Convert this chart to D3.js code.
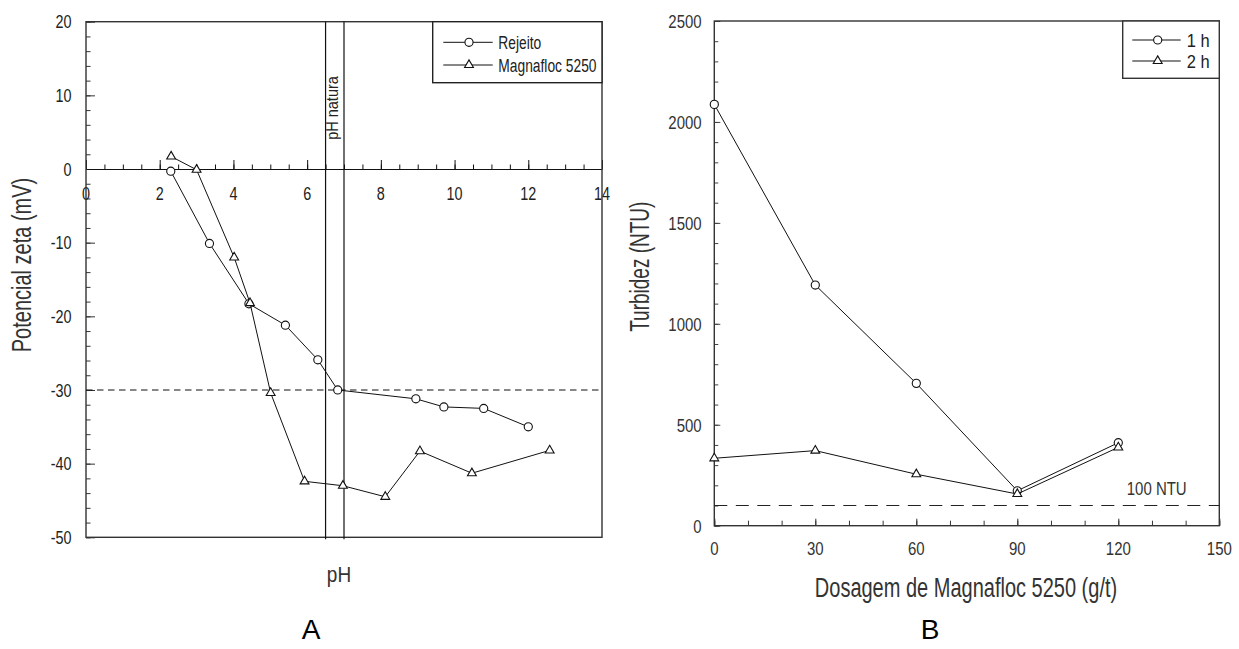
<!DOCTYPE html>
<html>
<head>
<meta charset="utf-8">
<script src="https://cdn.jsdelivr.net/npm/d3@7"></script>
<style>
  html, body { margin: 0; padding: 0; background: #fff; }
  svg { display: block; }
</style>
</head>
<body>
<div id="chart"></div>
<script>
// --- panel A: zeta potential vs pH
const phTicks = [0, 2, 4, 6, 8, 10, 12, 14];
const zetaTicks = [-50, -40, -30, -20, -10, 0, 10, 20];
const phRejeito = [2.3, 3.35, 4.42, 5.41, 6.29, 6.83, 8.95, 9.71, 10.79, 12.0];
const zetaRejeito = [-0.3, -10.1, -18.3, -21.2, -25.9, -30.0, -31.2, -32.3, -32.5, -35.0];
const phMagnafloc = [2.31, 3.0, 4.02, 4.45, 5.01, 5.93, 6.97, 8.12, 9.06, 10.47, 12.58];
const zetaMagnafloc = [1.7, -0.1, -12.0, -18.2, -30.4, -42.4, -43.0, -44.5, -38.3, -41.3, -38.2];
const zetaRef = -30;
const phNatural = [6.5, 7.0];
const seriesA = ["Rejeito", "Magnafloc 5250"];

// --- panel B: turbidity vs dosage
const dosTicks = [0, 30, 60, 90, 120, 150];
const turbTicks = [0, 500, 1000, 1500, 2000, 2500];
const dosagem = [0, 30, 60, 90, 120];
const turb1h = [2087, 1192, 705, 173, 411];
const turb2h = [334, 372, 255, 157, 388];
const turbRef = 100;
const seriesB = ["1 h", "2 h"];

const W = 1239, H = 649;
const svg = d3.select("#chart").append("svg")
    .attr("width", W)
    .attr("height", H)
    .style("background-color", "#fff");

const FONT = "'Liberation Sans', Arial, sans-serif";

// text is tall and narrow in the original, so stretch along glyph height
function txt(parent, s, x, y, o) {
    o = Object.assign({size: 14, k: 1.3, rot: 0, anchor: "middle", fill: "#222"}, o);
    return parent.append("text")
        .attr("transform", `translate(${x},${y}) rotate(${o.rot}) scale(1,${o.k})`)
        .attr("text-anchor", o.anchor)
        .style("font-family", FONT)
        .style("font-size", o.size + "px")
        .attr("fill", o.fill)
        .text(s);
}

const circleSym = d3.symbol().type(d3.symbolCircle).size(52);
const triSym = d3.symbol().type(d3.symbolTriangle).size(34);

function drawSeries(g, xs, ys, xScale, yScale, sym) {
    const pts = xs.map((x, i) => [xScale(x), yScale(ys[i])]);
    g.append("path")
        .attr("d", d3.line()(pts))
        .attr("fill", "none")
        .attr("stroke", "#111")
        .attr("stroke-width", 1);
    g.selectAll(null).data(pts).enter().append("path")
        .attr("transform", d => `translate(${d[0]},${d[1]})`)
        .attr("d", sym)
        .attr("fill", "#fff")
        .attr("stroke", "#111")
        .attr("stroke-width", 1.1);
}

// ================= Panel A =================
const xA = d3.scaleLinear().domain([0, 14]).range([86, 602]);
const yA = d3.scaleLinear().domain([-50, 20]).range([537.3, 21.7]);
const gA = svg.append("g");

// y ticks (inward)
gA.append("g").attr("transform", `translate(${xA(0)},0)`)
    .call(d3.axisLeft(yA).tickValues(d3.range(-50, 20.1, 2)).tickSizeInner(-4.5).tickSizeOuter(0).tickFormat(""))
    .call(g => g.select(".domain").remove())
    .attr("color", "#333");
gA.append("g").attr("transform", `translate(${xA(0)},0)`)
    .call(d3.axisLeft(yA).tickValues(zetaTicks).tickSizeInner(-9).tickSizeOuter(0).tickFormat(""))
    .call(g => g.select(".domain").remove())
    .attr("color", "#333");

// zero line with upward ticks
gA.append("g").attr("transform", `translate(0,${yA(0)})`)
    .call(d3.axisBottom(xA).tickValues(d3.range(0, 14.01, 0.5)).tickSizeInner(-4.5).tickSizeOuter(0).tickFormat(""))
    .attr("color", "#111");
gA.append("g").attr("transform", `translate(0,${yA(0)})`)
    .call(d3.axisBottom(xA).tickValues(phTicks).tickSizeInner(-9).tickSizeOuter(0).tickFormat(""))
    .call(g => g.select(".domain").remove())
    .attr("color", "#111");

zetaTicks.forEach(v => txt(gA, v, 71.5, yA(v) + 6.6, {size: 14.4, k: 1.3, anchor: "end"}));
phTicks.forEach(v => txt(gA, v, xA(v), yA(0) + 30.7, {size: 14.4, k: 1.3}));

// frame
gA.append("rect")
    .attr("x", xA(0)).attr("y", yA(20))
    .attr("width", xA(14) - xA(0)).attr("height", yA(-50) - yA(20))
    .attr("fill", "none").attr("stroke", "#333").attr("stroke-width", 1.4);

// -30 mV reference
gA.append("line")
    .attr("x1", xA(0)).attr("x2", xA(14))
    .attr("y1", yA(zetaRef)).attr("y2", yA(zetaRef))
    .attr("stroke", "#111").attr("stroke-width", 1.1)
    .attr("stroke-dasharray", "6.5,4.5");

// pH natural band
phNatural.forEach(p => {
    gA.append("line")
        .attr("x1", xA(p)).attr("x2", xA(p))
        .attr("y1", yA(20)).attr("y2", yA(-50) + 2)
        .attr("stroke", "#111").attr("stroke-width", 1.2);
});
txt(gA, "pH natura", xA(phNatural[0]) + 12, 108, {size: 14.5, k: 1.1, rot: -90});

drawSeries(gA, phRejeito, zetaRejeito, xA, yA, circleSym);
drawSeries(gA, phMagnafloc, zetaMagnafloc, xA, yA, triSym);

// legend A
const legA = gA.append("g");
legA.append("rect")
    .attr("x", 432.7).attr("y", yA(20))
    .attr("width", xA(14) - 432.7).attr("height", 61)
    .attr("fill", "#fff").attr("stroke", "#222").attr("stroke-width", 1.4);
[circleSym, triSym].forEach((sym, i) => {
    const ly = 42.3 + i * 22.7;
    legA.append("line").attr("x1", 443.3).attr("x2", 492.7).attr("y1", ly).attr("y2", ly)
        .attr("stroke", "#111").attr("stroke-width", 1);
    legA.append("path").attr("transform", `translate(469,${ly})`).attr("d", sym)
        .attr("fill", "#fff").attr("stroke", "#111").attr("stroke-width", 1.1);
    txt(legA, seriesA[i], 498.3, ly + 6.5, {size: 13.8, k: 1.3, anchor: "start"});
});

txt(gA, "Potencial zeta (mV)", 31, 265, {size: 20, k: 1.4, rot: -90, fill: "#333"});
txt(gA, "pH", 339, 581.5, {size: 19, k: 1.2, fill: "#333"});
txt(gA, "A", 311, 639, {size: 28, k: 1, fill: "#000"});

// ================= Panel B =================
const xB = d3.scaleLinear().domain([0, 150]).range([714.3, 1219.3]);
const yB = d3.scaleLinear().domain([0, 2500]).range([525.7, 21]);
const gB = svg.append("g");

gB.append("g").attr("transform", `translate(${xB(0)},0)`)
    .call(d3.axisLeft(yB).tickValues(d3.range(0, 2501, 100)).tickSizeInner(-4).tickSizeOuter(0).tickFormat(""))
    .call(g => g.select(".domain").remove())
    .attr("color", "#444");
gB.append("g").attr("transform", `translate(${xB(0)},0)`)
    .call(d3.axisLeft(yB).tickValues(turbTicks).tickSizeInner(-6).tickSizeOuter(0).tickFormat(""))
    .call(g => g.select(".domain").remove())
    .attr("color", "#444");
gB.append("g").attr("transform", `translate(0,${yB(0)})`)
    .call(d3.axisBottom(xB).tickValues(d3.range(0, 151, 10)).tickSizeInner(-5).tickSizeOuter(0).tickFormat(""))
    .call(g => g.select(".domain").remove())
    .attr("color", "#333");
gB.append("g").attr("transform", `translate(0,${yB(0)})`)
    .call(d3.axisBottom(xB).tickValues(dosTicks).tickSizeInner(-7).tickSizeOuter(0).tickFormat(""))
    .call(g => g.select(".domain").remove())
    .attr("color", "#333");

turbTicks.forEach(v => txt(gB, v, 701.7, yB(v) + 7.2, {size: 15, k: 1.2, anchor: "end", fill: "#333"}));
dosTicks.forEach(v => txt(gB, v, xB(v), yB(0) + 29.3, {size: 15, k: 1.2, fill: "#333"}));

gB.append("rect")
    .attr("x", xB(0)).attr("y", yB(2500))
    .attr("width", xB(150) - xB(0)).attr("height", yB(0) - yB(2500))
    .attr("fill", "none").attr("stroke", "#333").attr("stroke-width", 1.4);

gB.append("line")
    .attr("x1", xB(0)).attr("x2", xB(150))
    .attr("y1", yB(turbRef)).attr("y2", yB(turbRef))
    .attr("stroke", "#222").attr("stroke-width", 1.2)
    .attr("stroke-dasharray", "13,8.5");
txt(gB, "100 NTU", 1186.7, 495, {size: 15, k: 1.25, anchor: "end", fill: "#333"});

drawSeries(gB, dosagem, turb1h, xB, yB, circleSym);
drawSeries(gB, dosagem, turb2h, xB, yB, triSym);

const legB = gB.append("g");
legB.append("rect")
    .attr("x", 1122.7).attr("y", yB(2500))
    .attr("width", xB(150) - 1122.7).attr("height", 57.3)
    .attr("fill", "#fff").attr("stroke", "#333").attr("stroke-width", 1.4);
[circleSym, triSym].forEach((sym, i) => {
    const ly = 40 + i * 21;
    legB.append("line").attr("x1", 1132.3).attr("x2", 1180.7).attr("y1", ly).attr("y2", ly)
        .attr("stroke", "#111").attr("stroke-width", 1);
    legB.append("path").attr("transform", `translate(1157.7,${ly})`).attr("d", sym)
        .attr("fill", "#fff").attr("stroke", "#111").attr("stroke-width", 1.1);
    txt(legB, seriesB[i], 1186.7, ly + 6.5, {size: 16.5, k: 1.12, anchor: "start", fill: "#222"});
});

txt(gB, "Turbidez (NTU)", 648.5, 266.7, {size: 19, k: 1.45, rot: -90, fill: "#333"});
txt(gB, "Dosagem de Magnafloc 5250 (g/t)", 966, 596.5, {size: 20, k: 1.4, fill: "#333"});
txt(gB, "B", 930, 639, {size: 28, k: 1, fill: "#000"});
</script>
</body>
</html>
